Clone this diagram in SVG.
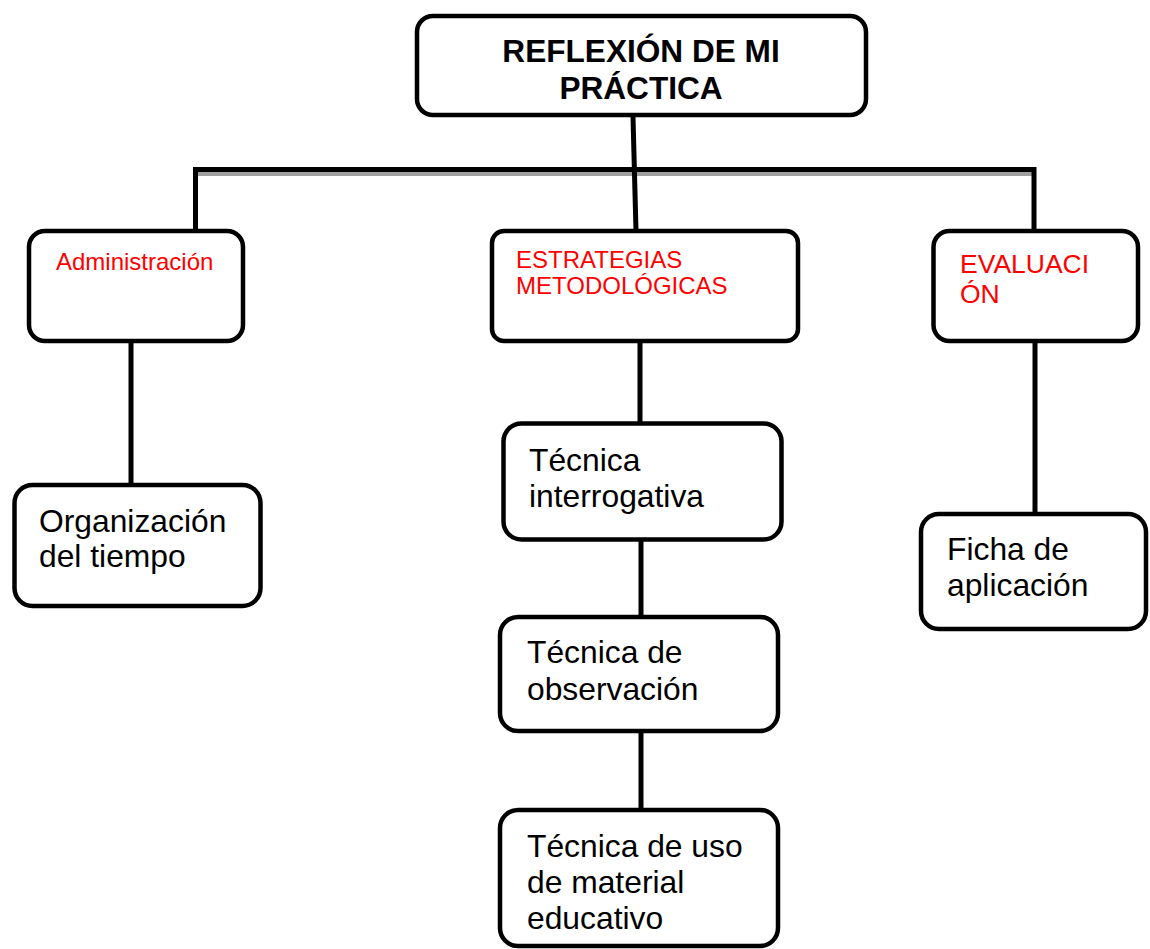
<svg xmlns="http://www.w3.org/2000/svg" width="1150" height="949" viewBox="0 0 1150 949">
<style>
.box{fill:#fff;stroke:#000;stroke-width:4.5}
.ln{stroke:#000;stroke-width:5;fill:none}
.t{font-family:"Liberation Sans",Arial,sans-serif;font-size:31.8px;fill:#000}
.r{font-family:"Liberation Sans",Arial,sans-serif;font-size:24px;fill:#ff0000}
.h{font-family:"Liberation Sans",Arial,sans-serif;font-size:31.6px;font-weight:bold;fill:#000;text-anchor:middle}
</style>
<rect width="1150" height="949" fill="#fff"/>
<g id="connectors">
<line x1="198" y1="174" x2="1032" y2="174" stroke="#a0a0a0" stroke-width="4"/>
<polyline class="ln" points="195.5,231 195.5,169.5 1034,169.5 1034,231"/>
<line class="ln" x1="633" y1="117" x2="636" y2="231"/>
<line class="ln" x1="131" y1="341" x2="131" y2="485"/>
<line class="ln" x1="640" y1="341" x2="640" y2="423"/>
<line class="ln" x1="641" y1="540" x2="641" y2="617"/>
<line class="ln" x1="641" y1="731" x2="641" y2="810"/>
<line class="ln" x1="1035" y1="341" x2="1035" y2="514"/>
</g>
<g id="root">
<rect class="box" x="417" y="16" width="449" height="99" rx="16"/>
<text class="h" x="641" y="62">REFLEXIÓN DE MI</text>
<text class="h" x="641" y="99">PRÁCTICA</text>
</g>
<g id="administracion">
<rect class="box" x="29" y="231" width="214" height="110" rx="16"/>
<text class="r" x="56" y="270">Administración</text>
</g>
<g id="estrategias">
<rect class="box" x="492" y="231" width="306" height="110" rx="12"/>
<text class="r" x="516" y="268">ESTRATEGIAS</text>
<text class="r" x="516" y="294">METODOLÓGICAS</text>
</g>
<g id="evaluacion">
<rect class="box" x="933.5" y="231" width="204.5" height="110" rx="16"/>
<text class="r" x="960" y="273" style="font-size:26.5px">EVALUACI</text>
<text class="r" x="960" y="303" style="font-size:26.5px">ÓN</text>
</g>
<g id="organizacion">
<rect class="box" x="14.5" y="485" width="246" height="121" rx="18"/>
<text class="t" x="39" y="532">Organización</text>
<text class="t" x="39" y="567">del tiempo</text>
</g>
<g id="interrogativa">
<rect class="box" x="503.5" y="423.5" width="278" height="116" rx="18"/>
<text class="t" x="529" y="471">Técnica</text>
<text class="t" x="529" y="507">interrogativa</text>
</g>
<g id="observacion">
<rect class="box" x="500" y="617" width="278" height="114" rx="18"/>
<text class="t" x="527" y="663">Técnica de</text>
<text class="t" x="527" y="700">observación</text>
</g>
<g id="material">
<rect class="box" x="500" y="810" width="278" height="136" rx="18"/>
<text class="t" x="527" y="857">Técnica de uso</text>
<text class="t" x="527" y="893">de material</text>
<text class="t" x="527" y="929">educativo</text>
</g>
<g id="ficha">
<rect class="box" x="921" y="514" width="225" height="115" rx="18"/>
<text class="t" x="947" y="560">Ficha de</text>
<text class="t" x="947" y="596">aplicación</text>
</g>
</svg>
